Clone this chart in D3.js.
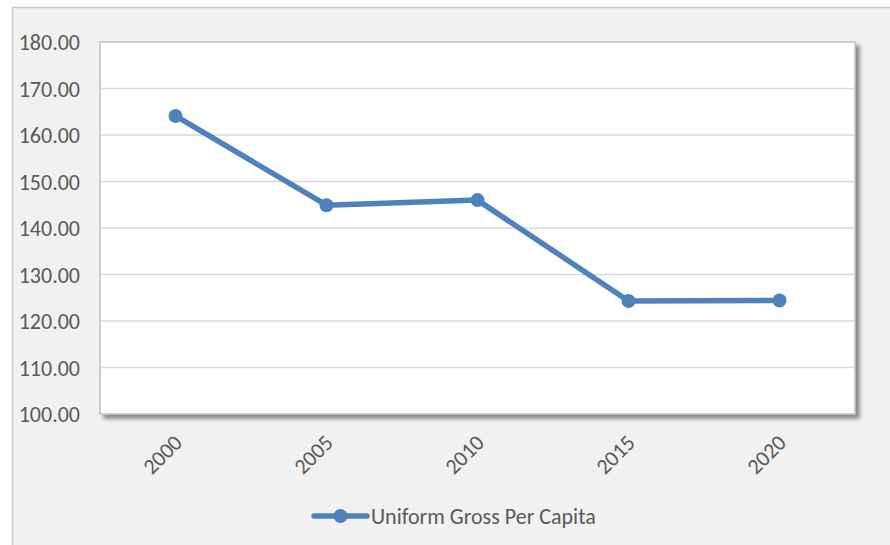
<!DOCTYPE html>
<html><head><meta charset="utf-8">
<script src="https://cdn.jsdelivr.net/npm/d3@7"></script>
<style>html,body{margin:0;padding:0;background:#fff;}</style>
</head><body>
<svg id="chart" width="890" height="545"></svg>
<script>
const categories = ["2000","2005","2010","2015","2020"];
const values = [164.1, 144.9, 146.0, 124.3, 124.4];
const yTicks = [100,110,120,130,140,150,160,170,180];
const seriesName = "Uniform Gross Per Capita";

const svg = d3.select("#chart");
const font = "Carlito, 'Open Sans', 'Liberation Sans', sans-serif";
const fs = 22;
const txt = "#595959";
const blue = "#4f81bd";

// outer frame
svg.append("rect").attr("x",12.5).attr("y",7.5).attr("width",900).attr("height",560)
  .attr("fill","#f1f1f1").attr("stroke","#c8c8c8").attr("stroke-width",1.5);

const m = {left:100, top:42, right:855, bottom:414};
const x = d3.scaleBand().domain(categories).range([m.left,m.right]);
const y = d3.scaleLinear().domain([100,180]).range([m.bottom,m.top]);

const defs = svg.append("defs");
const f = defs.append("filter").attr("id","sh").attr("x","-5%").attr("y","-5%").attr("width","115%").attr("height","115%");
f.append("feGaussianBlur").attr("in","SourceAlpha").attr("stdDeviation",2.2).attr("result","b");
f.append("feOffset").attr("in","b").attr("dx",3.5).attr("dy",3.5).attr("result","o");
f.append("feComponentTransfer").attr("in","o").attr("result","o2")
  .append("feFuncA").attr("type","linear").attr("slope",0.45);
const fm = f.append("feMerge");
fm.append("feMergeNode").attr("in","o2");
fm.append("feMergeNode").attr("in","SourceGraphic");

svg.append("rect").attr("x",m.left).attr("y",m.top).attr("width",m.right-m.left).attr("height",m.bottom-m.top)
  .attr("fill","#fff").attr("stroke","#bfbfbf").attr("stroke-width",1.5).attr("filter","url(#sh)");

// gridlines
svg.append("g").selectAll("line").data(yTicks.filter(d=>d>100 && d<180)).join("line")
  .attr("x1",m.left+1).attr("x2",m.right-1).attr("y1",d=>y(d)).attr("y2",d=>y(d))
  .attr("stroke","#d9d9d9").attr("stroke-width",1.5);

// y axis labels
const yAxis = d3.axisLeft(y).tickValues(yTicks).tickFormat(d3.format(".2f")).tickSize(0).tickPadding(0);
const gy = svg.append("g").attr("transform",`translate(80,0)`).call(yAxis);
gy.select(".domain").remove();
gy.selectAll("text").attr("font-family",font).attr("font-size",fs).attr("fill",txt).attr("dy","0.35em");

// x axis labels
const xAxis = d3.axisBottom(x).tickSize(0).tickPadding(0);
const gx = svg.append("g").attr("transform",`translate(0,${m.bottom})`).call(xAxis);
gx.select(".domain").remove();
gx.selectAll("text").attr("font-family",font).attr("font-size",fs).attr("fill",txt)
  .attr("text-anchor","end").attr("dy",null)
  .attr("transform","translate(8,30) rotate(-45)");

// line
const cx = d => x(d)+x.bandwidth()/2;
const line = d3.line().x((d,i)=>cx(categories[i])).y(d=>y(d));
svg.append("path").datum(values).attr("d",line).attr("fill","none")
  .attr("stroke",blue).attr("stroke-width",5.5).attr("stroke-linejoin","round");
svg.append("g").selectAll("circle").data(values).join("circle")
  .attr("cx",(d,i)=>cx(categories[i])).attr("cy",d=>y(d)).attr("r",7).attr("fill",blue);

// legend
const lg = svg.append("g").attr("transform","translate(314,516)");
lg.append("line").attr("x1",0).attr("x2",53).attr("y1",0).attr("y2",0)
  .attr("stroke",blue).attr("stroke-width",5.5).attr("stroke-linecap","round");
lg.append("circle").attr("cx",26.5).attr("cy",0).attr("r",7).attr("fill",blue);
lg.append("text").attr("x",57).attr("y",0).attr("dy","0.35em").text(seriesName)
  .attr("font-family",font).attr("font-size",fs).attr("fill",txt);
</script>
</body></html>
